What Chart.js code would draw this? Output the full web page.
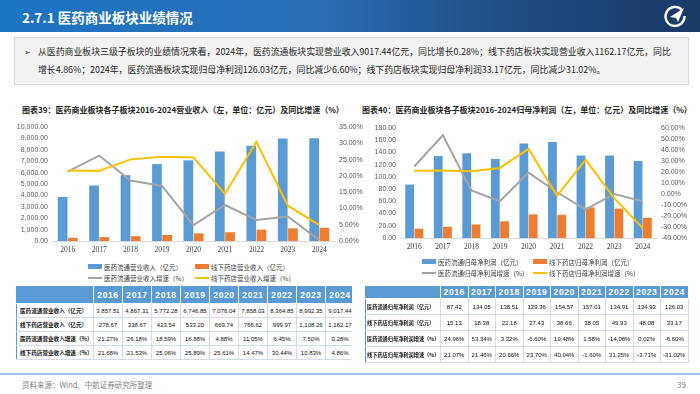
<!DOCTYPE html>
<html>
<head>
<meta charset="utf-8">
<script src="https://cdn.jsdelivr.net/npm/chart.js@4.4.1/dist/chart.umd.min.js"></script>
<style>
  body { margin: 0; width: 700px; height: 394px; position: relative; overflow: hidden; background: #fff; font-family: "Noto Sans CJK SC", sans-serif; }
  #header { position: absolute; left: 0; top: 0; width: 700px; height: 32px; background: linear-gradient(90deg, #1c74c4 0%, #2a6fb6 45%, #1f4d85 72%, #183a66 100%); }
  #header h1 { position: absolute; left: 22px; top: 0; margin: 0; line-height: 34px; font-size: 13.5px; font-weight: bold; color: #fff; }
  #logo { position: absolute; left: 663px; top: 4px; }
  #summary { position: absolute; left: 14px; top: 37px; width: 675px; height: 48px; box-sizing: border-box; background: #f2f2f2; border: 1px solid #d9d9d9; }
  #summary .arrow { position: absolute; left: 9px; top: 8px; font-size: 8px; color: #333; }
  #summary p { position: absolute; left: 23px; top: 5px; margin: 0; font-size: 8.9px; line-height: 18px; color: #262626; white-space: nowrap; }
  .title { position: absolute; top: 104px; font-size: 8px; font-weight: bold; color: #262626; white-space: nowrap; }
  .box { position: absolute; }
  .legend { position: absolute; display: grid; grid-auto-rows: 11px; font-size: 6.5px; color: #404040; }
  .legend div { display: flex; align-items: center; white-space: nowrap; }
  .legend span.mk { display: inline-block; width: 14px; margin-right: 2px; }
  .wrap { position: absolute; overflow: hidden; }
  table { border-collapse: collapse; table-layout: fixed; }
  th { background: #5b9bd5; color: #fff; font: bold 8.5px "Liberation Sans", sans-serif; letter-spacing: 0.6px; border: 1px solid #fff; padding: 0; }
  td { border: 1px solid #cfdcec; font: 6px "Liberation Sans", sans-serif; color: #111; text-align: center; padding: 0; white-space: nowrap; overflow: hidden; }
  td.name { text-align: left; font-family: "Noto Sans CJK SC", sans-serif; font-weight: bold; font-size: 5.6px; padding-left: 3px; border-left: 1px solid #5b9bd5; }
  #tableProfit td.name { font-size: 5.2px; padding-left: 1px; }
  #footline { position: absolute; left: 0; top: 373px; width: 700px; height: 2px; background: #9dc3e6; }
  #source { position: absolute; left: 22px; top: 379px; font-size: 7.5px; color: #7f7f7f; }
  #page { position: absolute; left: 677px; top: 379px; font-size: 8px; color: #7f7f7f; }
</style>
</head>
<body>
<div id="header">
  <h1>2.7.1 医药商业板块业绩情况</h1>
  <svg id="logo" width="24" height="24" viewBox="0 0 24 24">
    <path d="M19 6 A9.5 9.5 0 1 0 21.5 12" fill="none" stroke="#fff" stroke-width="2.4"/>
    <path d="M7 13 L21 4 L15 18 L13 14 Z" fill="#fff"/>
  </svg>
</div>

<div id="summary">
  <span class="arrow">➢</span>
  <p>从医药商业板块三级子板块的业绩情况来看，2024年，医药流通板块实现营业收入9017.44亿元，同比增长0.28%；线下药店板块实现营业收入1162.17亿元，同比<br>增长4.86%；2024年，医药流通板块实现归母净利润126.03亿元，同比减少6.60%；线下药店板块实现归母净利润33.17亿元，同比减少31.02%。</p>
</div>

<div class="title" style="left:22px">图表39：医药商业板块各子板块2016-2024营业收入（左，单位：亿元）及同比增速（%）</div>
<div class="title" style="left:362px">图表40：医药商业板块各子板块2016-2024归母净利润（左，单位：亿元）及同比增速（%）</div>

<div class="box" style="left:0px; top:116px; width:372px; height:141px;"><canvas id="chartRevenue"></canvas></div>
<div class="box" style="left:350px; top:118px; width:350px; height:136px;"><canvas id="chartProfit"></canvas></div>

<div class="legend" id="legendRevenue" style="left:88px; top:261px; grid-template-columns:107px auto;"></div>
<div class="legend" id="legendProfit" style="left:422px; top:256px; grid-template-columns:111px auto;"></div>

<div class="wrap" style="left:16px; top:285px; width:336px; height:78px;"><table id="tableRevenue"></table></div>
<div class="wrap" style="left:365px; top:285px; width:324px; height:78px;"><table id="tableProfit"></table></div>

<div id="footline"></div>
<div id="source">资料来源：Wind、中航证券研究所整理</div>
<div id="page">39</div>

<script>
const years = ['2016', '2017', '2018', '2019', '2020', '2021', '2022', '2023', '2024'];

// 营业收入（亿元）及增速（%）
const revDistribution = [3857.51, 4867.31, 5772.28, 6746.85, 7076.04, 7858.03, 8364.85, 8992.35, 9017.44];
const revPharmacy = [278.67, 338.67, 423.54, 533.20, 669.74, 766.62, 999.97, 1108.26, 1162.17];
const revGrowthDistribution = [21.27, 26.18, 18.59, 16.88, 4.88, 11.05, 6.45, 7.50, 0.28];
const revGrowthPharmacy = [21.68, 21.53, 25.06, 25.89, 25.61, 14.47, 30.44, 10.83, 4.86];

// 归母净利润（亿元）及增速（%）
const profitDistribution = [87.42, 134.05, 138.51, 129.36, 154.57, 157.01, 134.91, 134.93, 126.03];
const profitPharmacy = [15.13, 18.38, 22.18, 27.43, 38.66, 38.05, 49.93, 48.08, 33.17];
const profitGrowthDistribution = [24.96, 53.34, 3.32, -6.60, 19.48, 1.58, -14.08, 0.02, -6.60];
const profitGrowthPharmacy = [21.07, 21.46, 20.66, 23.70, 40.94, -1.60, 31.25, -3.71, -31.02];

const revNames = ['医药流通营业收入（亿元）', '线下药店营业收入（亿元）', '医药流通营业收入增速（%）', '线下药店营业收入增速（%）'];
const profitNames = ['医药流通归母净利润（亿元）', '线下药店归母净利润（亿元）', '医药流通归母净利润增速（%）', '线下药店归母净利润增速（%）'];

// axis ranges: [min, max, step]
const revLeftAxis = [0, 10000, 1000];
const revRightAxis = [0, 35, 5];
const profitLeftAxis = [0, 180, 20];
const profitRightAxis = [-40, 60, 10];

const colors = ['#5b9bd5', '#ed7d31', '#a5a5a5', '#ffc000'];
const tickFont = { family: '"Liberation Sans Narrow", "Liberation Sans", sans-serif', size: 7 };

const fmtThousands = v => v.toLocaleString('en-US', { minimumFractionDigits: 2, maximumFractionDigits: 2 });
const fmtFixed = v => v.toFixed(2);
const fmtPct = v => v.toFixed(2) + '%';

function makeChart(canvasId, names, bars, lines, leftAxis, rightAxis, leftFmt, widths, padTop) {
    const barStyle = { yAxisID: 'y', order: 2, barPercentage: 0.95, categoryPercentage: 0.65 };
    const lineStyle = { type: 'line', yAxisID: 'y1', borderWidth: 2, pointRadius: 0, tension: 0, fill: false };

    return new Chart(document.getElementById(canvasId), {
        type: 'bar',
        data: {
            labels: years,
            datasets: [
                { ...barStyle, label: names[0], data: bars[0], backgroundColor: colors[0] },
                { ...barStyle, label: names[1], data: bars[1], backgroundColor: colors[1] },
                { ...lineStyle, label: names[2], data: lines[0], borderColor: colors[2], backgroundColor: colors[2], order: 1 },
                { ...lineStyle, label: names[3], data: lines[1], borderColor: colors[3], backgroundColor: colors[3], order: 0 }
            ]
        },
        options: {
            responsive: true,
            maintainAspectRatio: false,
            animation: false,
            layout: { padding: { top: padTop } },
            plugins: { legend: { display: false }, tooltip: { enabled: false } },
            scales: {
                x: {
                    grid: { display: false, drawTicks: false },
                    border: { color: '#d9d9d9' },
                    ticks: { color: '#404040', font: { family: '"Liberation Serif", serif', size: 7.5 }, padding: 5, maxRotation: 0, autoSkip: false },
                    afterFit: s => { s.height = 16; }
                },
                y: {
                    position: 'left',
                    min: leftAxis[0], max: leftAxis[1],
                    grid: { display: false, drawTicks: false },
                    border: { display: false },
                    ticks: { stepSize: leftAxis[2], callback: leftFmt, color: '#595959', font: tickFont, padding: 4, autoSkip: false },
                    afterFit: s => { s.width = widths[0]; }
                },
                y1: {
                    position: 'right',
                    min: rightAxis[0], max: rightAxis[1],
                    grid: { display: false, drawTicks: false },
                    border: { display: false },
                    ticks: { stepSize: rightAxis[2], callback: fmtPct, color: '#595959', font: tickFont, padding: 4, autoSkip: false },
                    afterFit: s => { s.width = widths[1]; }
                }
            }
        }
    });
}

function buildLegend(chart, legendId) {
    let html = '';
    for (const ds of chart.data.datasets) {
        const isLine = ds.type === 'line';
        const h = isLine ? 2 : 5;
        html += `<div><span class="mk" style="height:${h}px;background:${isLine ? ds.borderColor : ds.backgroundColor}"></span>${ds.label}</div>`;
    }
    document.getElementById(legendId).innerHTML = html;
}

function buildTable(tableId, names, series, fmts, colWidths, rowHeights) {
    let html = '<colgroup>';
    html += `<col style="width:${colWidths[0]}px">`;
    for (let i = 0; i < years.length; i++) html += `<col style="width:${colWidths[1]}px">`;
    html += '</colgroup>';
    html += `<tr style="height:${rowHeights[0]}px"><th style="border-left:1px solid #5b9bd5"></th>`;
    for (const y of years) html += `<th>${y}</th>`;
    html += '</tr>';
    for (let r = 0; r < names.length; r++) {
        html += `<tr style="height:${rowHeights[1]}px"><td class="name">${names[r]}</td>`;
        for (const v of series[r]) html += `<td>${fmts[r](v)}</td>`;
        html += '</tr>';
    }
    const table = document.getElementById(tableId);
    table.innerHTML = html;
    table.style.width = (colWidths[0] + colWidths[1] * years.length) + 'px';
}

const revenueChart = makeChart('chartRevenue', revNames,
    [revDistribution, revPharmacy], [revGrowthDistribution, revGrowthPharmacy],
    revLeftAxis, revRightAxis, fmtThousands, [52, 37], 11);
buildLegend(revenueChart, 'legendRevenue');

const profitChart = makeChart('chartProfit', profitNames,
    [profitDistribution, profitPharmacy], [profitGrowthDistribution, profitGrowthPharmacy],
    profitLeftAxis, profitRightAxis, fmtFixed, [50, 43], 10);
buildLegend(profitChart, 'legendProfit');

buildTable('tableRevenue', revNames,
    [revDistribution, revPharmacy, revGrowthDistribution, revGrowthPharmacy],
    [fmtThousands, fmtThousands, fmtPct, fmtPct], [77, 29], [18, 14]);

buildTable('tableProfit', profitNames,
    [profitDistribution, profitPharmacy, profitGrowthDistribution, profitGrowthPharmacy],
    [fmtFixed, fmtFixed, fmtPct, fmtPct], [75, 27.5], [13, 16]);
</script>
</body>
</html>
